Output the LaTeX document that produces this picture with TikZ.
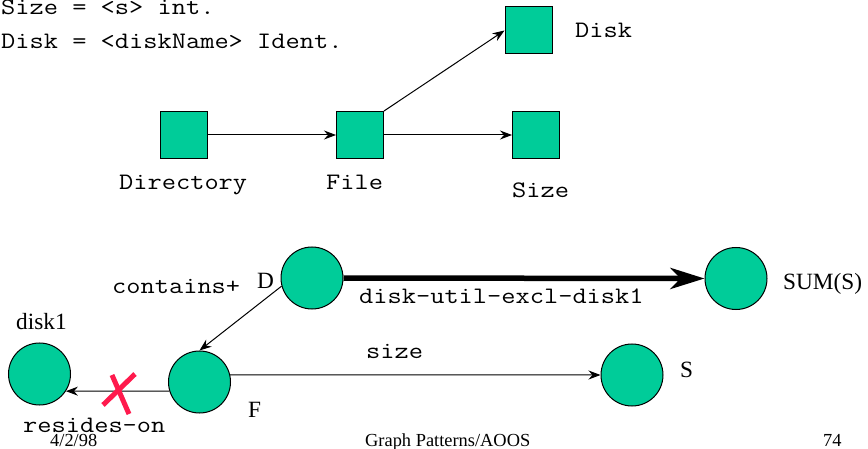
\documentclass[tikz,border=0pt]{standalone}
\usepackage{fontspec}
\setmainfont{Liberation Serif}
\setmonofont{Latin Modern Mono}[FakeStretch=1.17]
\usetikzlibrary{arrows.meta,calc}
\definecolor{nodegreen}{HTML}{00CC99}
\definecolor{crossred}{HTML}{FF1A4D}
\tikzset{
  cls/.style={draw=black, line width=1pt, fill=nodegreen, minimum size=47pt, inner sep=0pt, rectangle},
  obj/.style={draw=black, line width=1pt, fill=nodegreen, minimum size=62pt, inner sep=0pt, circle},
  mono/.style={inner sep=0pt, anchor=base west, font=\fontsize{23.6}{28}\ttfamily},
  serif/.style={inner sep=0pt, anchor=base west, font=\fontsize{23.3}{28}\rmfamily},
  foot/.style={inner sep=0pt, anchor=base west, font=\fontsize{18.4}{22}\rmfamily},
  link/.style={line width=1pt, -{Stealth[length=12pt,width=9pt,inset=4pt]}},
  biglink/.style={line width=5.5pt, -{Stealth[length=34pt,width=21pt,inset=10pt]}},
}
\begin{document}
\begin{tikzpicture}[x=1pt, y=-1pt]
\useasboundingbox (0,0) rectangle (868,449);

% schema definitions
\node[mono] (defsize) at (1,15) {Size = <s> int.};
\node[mono] (defdisk) at (1,49) {Disk = <diskName> Ident.};

% class graph
\node[cls] (dir)   at (184,135) {};
\node[cls] (file)  at (360,135) {};
\node[cls] (disk)  at (528.5,30.5) {};
\node[cls] (size)  at (536,135) {};
\node[mono] (ldir)  at (119,190) {Directory};
\node[mono] (lfile) at (326,190) {File};
\node[mono] (lsize) at (512,198) {Size};
\node[mono] (ldisk) at (575,38) {Disk};

\draw[link] (dir.east) -- (file.west);
\draw[link] (file.east) -- (size.west);
\draw[link] (file.north east) -- (disk.west);

% pattern graph
\node[obj] (D)    at (312,278) {};
\node[obj] (F)    at (199.5,382) {};
\node[obj] (dk)   at (39.5,374) {};
\node[obj] (sum)  at (736,278.5) {};
\node[obj] (S)    at (632,375) {};

\node[serif] (lD)   at (257,288) {D};
\node[serif] (lF)   at (248,417) {F};
\node[serif] (ldk)  at (16,329) {disk1};
\node[serif] (lsum) at (783,290) {SUM(S)};
\node[serif] (lS)   at (680,377) {S};

\node[mono] (lcont) at (112,294) {contains+};
\node[mono] (lutil) at (359,303) {disk-util-excl-disk1};
\node[mono] (lsz)   at (366,358) {size};
\node[mono] (lres)  at (23,432) {resides-on};

\draw[biglink] (D.east) -- (sum.west);
\draw[link] (D.195) -- (F.north);
\draw[link] (F.13) -- (S.west);
\draw[link] (F.197) -- (dk.-33);

% excluded edge mark
\coordinate (xmark) at (119,393);
\draw[crossred, line width=5pt] ($(xmark)+(-16,12)$) -- ($(xmark)+(16,-19)$);
\draw[crossred, line width=5pt] ($(xmark)+(-7,-18)$) -- ($(xmark)+(10,21)$);

% footer
\node[foot] (date)  at (50,446) {4/2/98};
\node[foot] (title) at (365,446) {Graph Patterns/AOOS};
\node[foot] (page)  at (823,446) {74};
\end{tikzpicture}
\end{document}
